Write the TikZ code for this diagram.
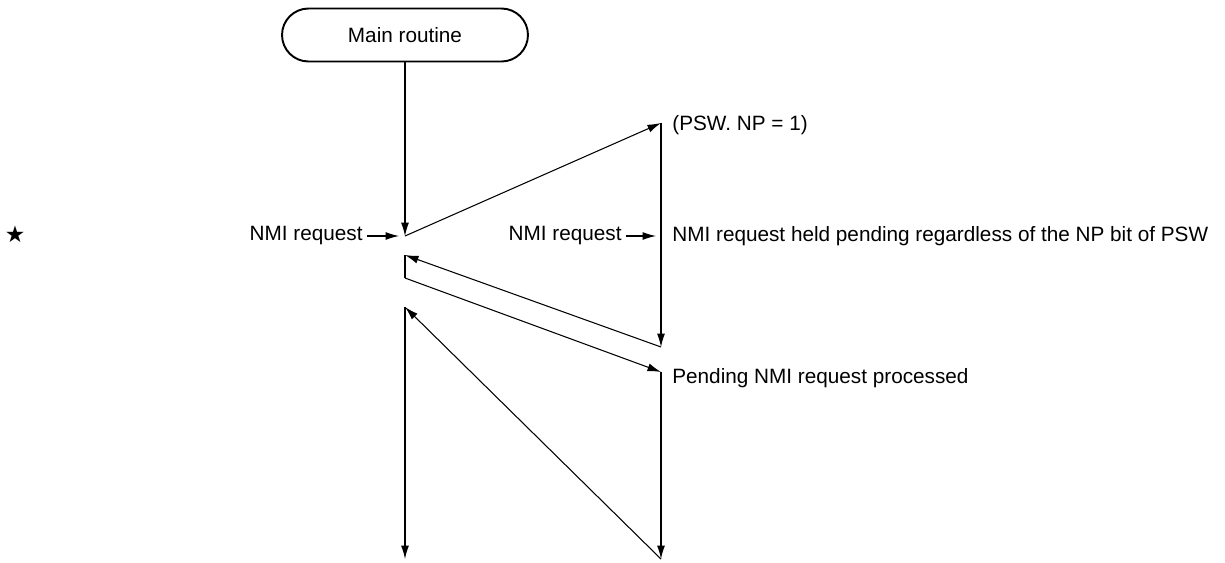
\documentclass[tikz,border=0pt]{standalone}
\usepackage{fontspec}
\setmainfont{Liberation Sans}
\newfontfamily\symfont{DejaVu Sans}
\usetikzlibrary{arrows.meta}

\tikzset{
  flow/.style={line width=0.6pt, -{Latex[length=0.27cm, width=0.16cm]}},
  plain/.style={line width=0.6pt},
  lbl/.style={inner sep=0pt, font=\fontsize{11.8}{14}\selectfont},
  terminal/.style={draw, line width=1.1pt, rounded corners=0.53cm, minimum width=4.92cm, minimum height=1.06cm, inner sep=0pt, font=\fontsize{11.8}{14}\selectfont}
}

\begin{document}
\begin{tikzpicture}[x=0.02cm, y=-0.02cm]
  \useasboundingbox (0,0) rectangle (1225,562);
  % start of the routine
  \node[terminal] (main) at (405,35) {Main routine};
  % turning points of the two paths
  \coordinate (a1) at (405,236); \coordinate (a2) at (405,255);
  \coordinate (a3) at (405,278); \coordinate (a4) at (405,307);
  \coordinate (a5) at (405,559);
  \coordinate (b1) at (661,123); \coordinate (b2) at (661,347);
  \coordinate (b3) at (661,372); \coordinate (b4) at (661,559);
  \draw[flow] (main.south) -- (a1);
  \draw[flow] (a1) -- (b1);
  \draw[flow] (b1) -- (b2);
  \draw[flow] (b2) -- (a2);
  \draw[plain] (a2) -- (a3);
  \draw[flow] (a3) -- (b3);
  \draw[flow] (b3) -- (b4);
  \draw[flow] (b4) -- (a4);
  \draw[flow] (a4) -- (a5);
  % requests coming in
  \node[lbl, anchor=east] (req1) at (363,236) {NMI request};
  \coordinate (req1tip) at (399,236);
  \draw[flow] ([xshift=2pt]req1.east) -- (req1tip);
  \node[lbl, anchor=east] (req2) at (622,236) {NMI request};
  \coordinate (req2tip) at (656,236);
  \draw[flow] ([xshift=2pt]req2.east) -- (req2tip);
  % notes
  \node[lbl, anchor=west] (psw) at (672,125) {(PSW. NP = 1)};
  \node[lbl, anchor=west] (held) at (672,236) {NMI request held pending regardless of the NP bit of PSW};
  \node[lbl, anchor=west] (done) at (672,378) {Pending NMI request processed};
  \node[inner sep=0pt, font=\symfont\fontsize{13}{15}\selectfont] (mark) at (15,234) {★};
\end{tikzpicture}
\end{document}
